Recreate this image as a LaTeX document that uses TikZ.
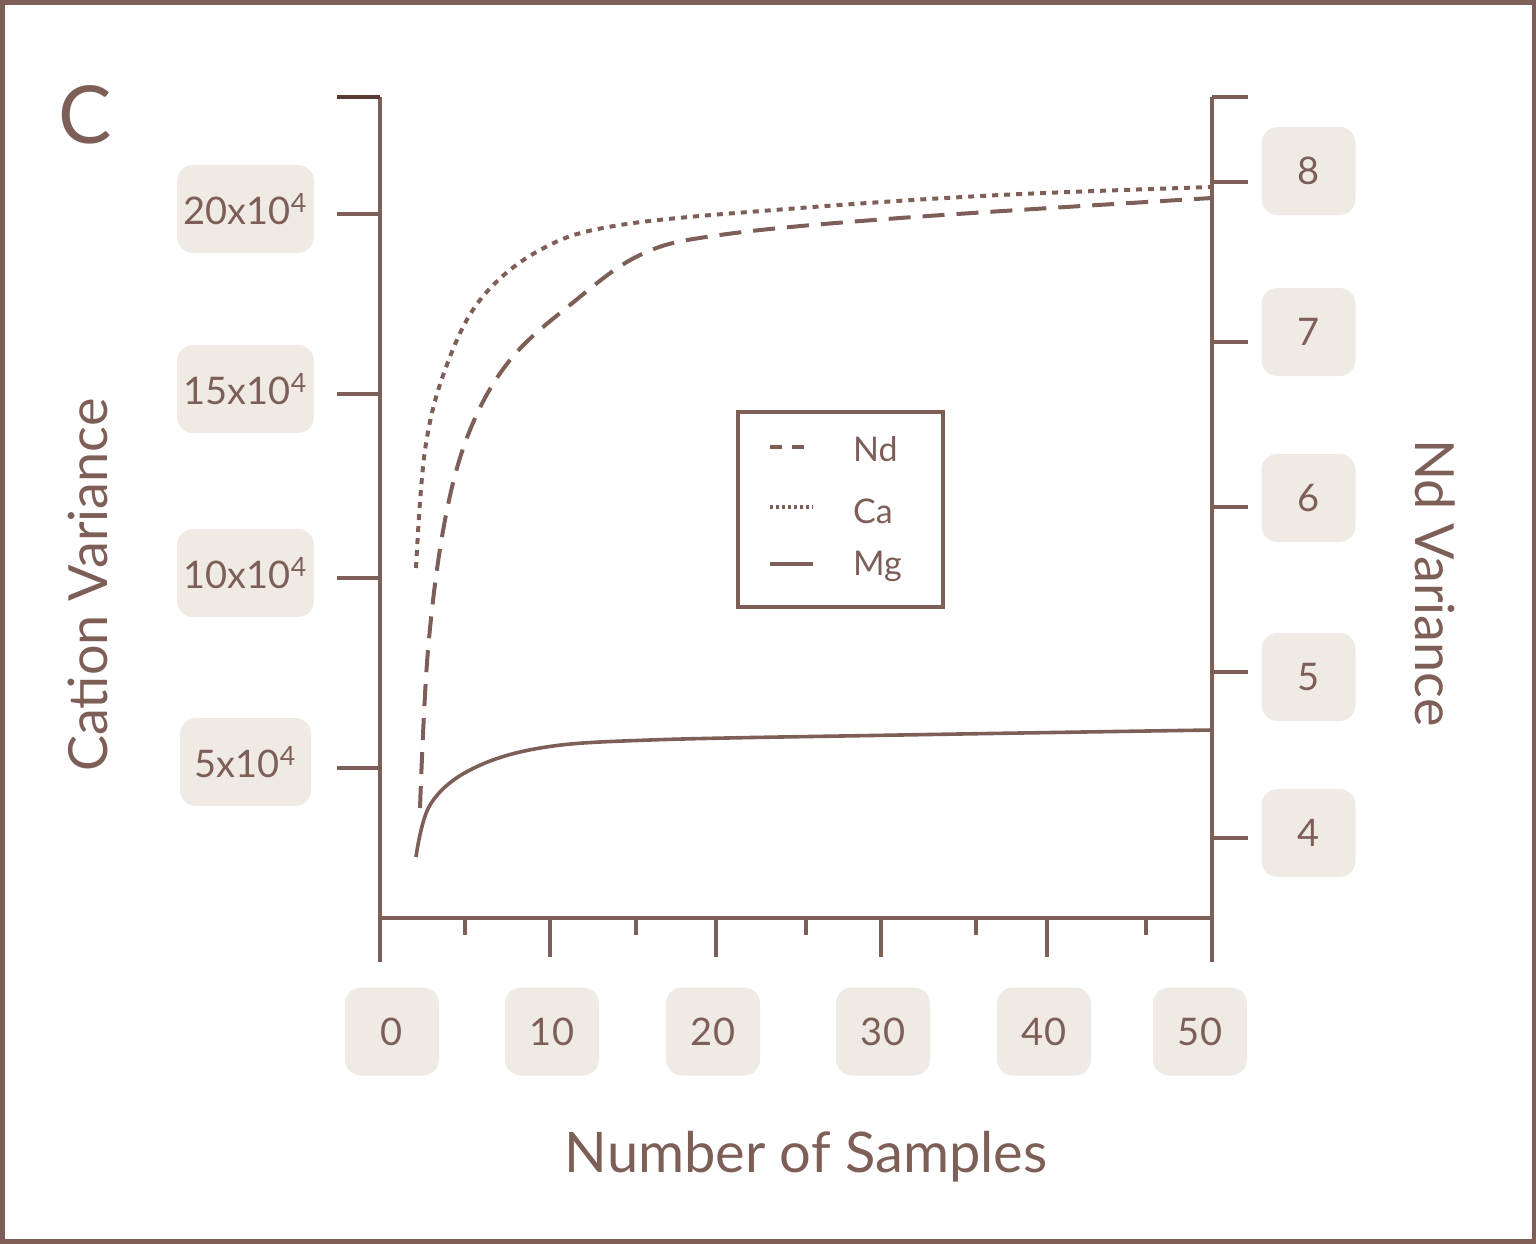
\documentclass[tikz,border=0pt]{standalone}
\usepackage{fontspec}
\setmainfont{Lato}
\definecolor{br}{HTML}{7D5F58}
\definecolor{dbr}{HTML}{5A3A34}
\definecolor{bx}{HTML}{EFEBE4}
\begin{document}
\begin{tikzpicture}[x=0.5pt,y=-0.5pt,
  lab/.style={fill=bx,rounded corners=8pt,text=br,font=\fontsize{19}{22}\selectfont,anchor=center},
  ax/.style={br,line width=2pt},
  tk/.style={br,line width=2pt}]
\useasboundingbox (0,0) rectangle (1536,1243);
\draw[br,line width=2.5pt] (2,2) rectangle (1534,1241);
\node[text=br,font=\fontsize{40}{44}\selectfont] (C) at (85,115) {C};
% axes
\draw[ax] (380,97) -- (380,918) -- (1212,918);
\draw[ax] (1212,97) -- (1212,962);
\draw[dbr,line width=2pt] (337,97) -- (380,97);
\foreach \y in {214,394,578,768} \draw[tk] (337,\y) -- (380,\y);
\draw[ax] (380,918) -- (380,962);
\foreach \x in {550,716,881,1047} \draw[tk] (\x,918) -- (\x,957);
\foreach \x in {465,636,806,976,1146} \draw[tk] (\x,918) -- (\x,935);
\foreach \y in {97,182,342,507,672,838} \draw[tk] (1212,\y) -- (1248,\y);
% labels
\foreach \y/\t [count=\i] in {209/20,389/15,573/10,762/5}
  \node[lab,minimum width=65.5pt,minimum height=44pt] (l\i) at (245.5,\y) {\t x10\textsuperscript{4}};
\foreach \y/\t [count=\i] in {171/8,332/7,498/6,677/5,833/4}
  \node[lab,minimum width=47pt,minimum height=44pt] (r\i) at (1308.5,\y) {\t};
\foreach \x/\t [count=\i] in {392/0,552/10,713/20,883/30,1044/40,1200/50}
  \node[lab,minimum width=47pt,minimum height=44pt] (b\i) at (\x,1031.5) {\t};
\node[text=br,font=\fontsize{27}{30}\selectfont,rotate=90] (yl) at (88,585) {Cation Variance};
\node[text=br,font=\fontsize{27}{30}\selectfont,rotate=-90] (yr) at (1435,583) {Nd Variance};
\node[text=br,font=\fontsize{28}{32}\selectfont] (xl) at (806,1157) {Number of Samples};
% curves
\draw[br,line width=2pt,dash pattern=on 3pt off 3pt] plot[smooth,tension=0.6] coordinates {(416,568) (425,450) (445,370) (480,300) (540,250) (620,225) (800,208) (1000,195) (1212,187)};
\draw[br,line width=2pt,dash pattern=on 11pt off 6pt] plot[smooth,tension=0.6] coordinates {(420,808) (428,650) (445,520) (470,430) (510,360) (570,305) (640,255) (720,235) (900,218) (1212,198)};
\draw[br,line width=1.8pt] plot[smooth,tension=0.6] coordinates {(416,857) (430,805) (470,770) (540,748) (650,740) (900,735) (1212,730)};
% legend
\node[draw=br,line width=2pt,minimum width=102.5pt,minimum height=97.5pt] (leg) at (840.5,509.5) {};
\draw[br,line width=2pt,dash pattern=on 6pt off 5pt] (770,447) -- (813,447);
\draw[br,line width=2pt,dash pattern=on 1.5pt off 1.5pt] (770,507) -- (813,507);
\draw[br,line width=2pt] (770,564) -- (813,564);
\node[text=br,anchor=west,font=\fontsize{17}{20}\selectfont] (n1) at (846,449) {Nd};
\node[text=br,anchor=west,font=\fontsize{17}{20}\selectfont] (n2) at (846,511) {Ca};
\node[text=br,anchor=west,font=\fontsize{17}{20}\selectfont] (n3) at (846,566) {Mg};
\end{tikzpicture}
\end{document}
